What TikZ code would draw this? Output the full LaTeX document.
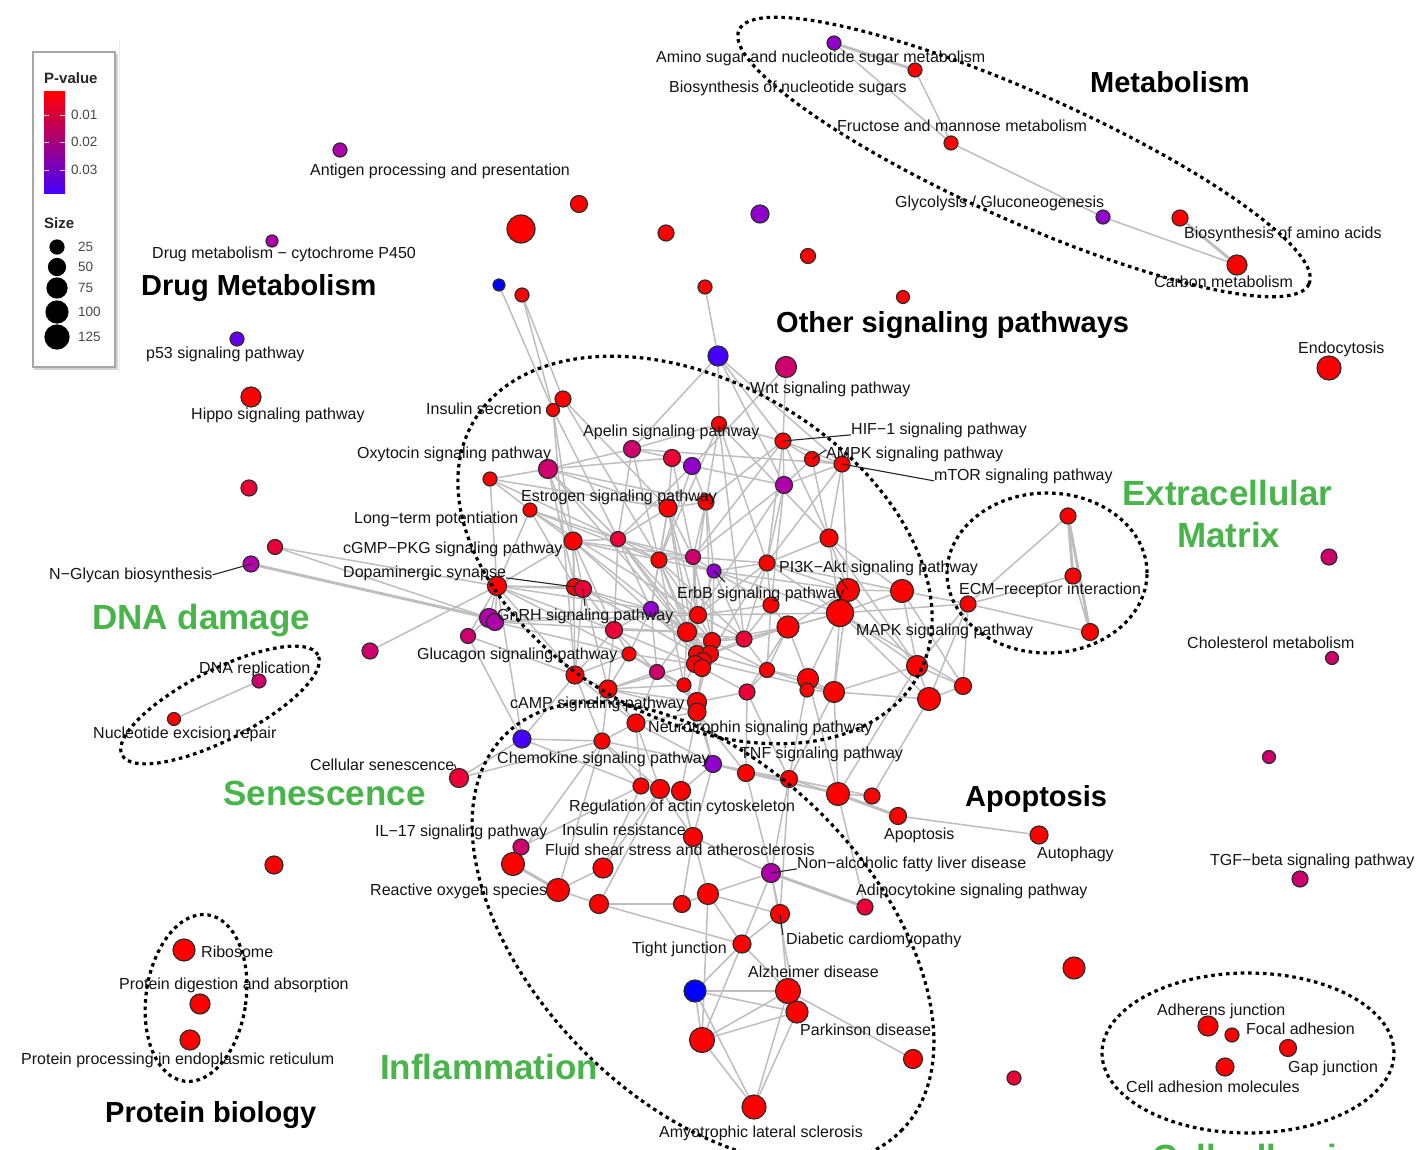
\documentclass[tikz,border=0pt]{standalone}
\usepackage{fontspec}
\setmainfont{Liberation Sans}
\pgfdeclarelayer{bg}
\pgfsetlayers{bg,main}
\definecolor{cR}{RGB}{255,0,0}
\definecolor{cC}{RGB}{235,0,55}
\definecolor{cM}{RGB}{205,0,110}
\definecolor{cMg}{RGB}{175,0,170}
\definecolor{cP}{RGB}{145,0,205}
\definecolor{cPB}{RGB}{100,0,235}
\definecolor{cB}{RGB}{70,0,255}
\definecolor{cBB}{RGB}{0,0,255}
\definecolor{edgec}{RGB}{190,190,190}
\definecolor{ndb}{RGB}{45,45,45}
\definecolor{txt}{RGB}{20,20,20}
\definecolor{grn}{RGB}{72,180,74}
\definecolor{legtxt}{RGB}{70,70,70}
\tikzset{
  nd/.style={circle,draw=ndb,line width=1.2pt,inner sep=0pt,minimum size=#1pt},
  lnk/.style={draw=edgec,line width=1.5pt},
  tlnk/.style={draw=edgec,line width=2.9pt},
  lab/.style={anchor=base west,inner sep=0pt,font=\fontsize{16}{18}\selectfont,text=txt},
  ttl/.style={anchor=base west,inner sep=0pt,font=\fontsize{29}{33}\selectfont\bfseries,text=black},
  gttl/.style={anchor=base west,inner sep=0pt,font=\fontsize{35}{40}\selectfont\bfseries,text=grn},
  grp/.style={draw=black,line width=3.2pt,dash pattern=on 3.6pt off 3.8pt},
  leader/.style={draw=black!85,line width=1.1pt},
  legl/.style={anchor=base west,inner sep=0pt,font=\fontsize{13.5}{15}\selectfont,text=legtxt},
  legh/.style={anchor=base west,inner sep=0pt,font=\fontsize{15}{17}\selectfont\bfseries,text=black!85},
}
\begin{document}
\begin{tikzpicture}[x=1pt,y=-1pt]
\useasboundingbox (0,0) rectangle (1417,1150);
\clip (0,0) rectangle (1417,1150);
\begin{pgfonlayer}{bg}
\fill[white] (0,0) rectangle (1417,1150);
\end{pgfonlayer}

% ---------------- legend
\draw[gray!15,line width=1pt] (119,40) -- (119,372);
\draw[gray!35,line width=2.5pt] (35,55) rectangle (117,369);
\draw[gray!70,line width=1.5pt,fill=white] (33,52) rectangle (115,367);
\node[legh] (legP) at (44,84) {P-value};
\shade[top color=cR,middle color=cM!80!cP,bottom color=cB] (44,92) rectangle (65,194);
\foreach \yy in {115,142,170}{
  \draw[white!60!gray,line width=0.8pt] (44,\yy) -- (49,\yy);
  \draw[white!60!gray,line width=0.8pt] (60,\yy) -- (65,\yy);
}
\node[legl] (leg1) at (71,120) {0.01};
\node[legl] (leg2) at (71,147) {0.02};
\node[legl] (leg3) at (71,175) {0.03};
\node[legh] (legS) at (44,229) {Size};
\node[nd=14,fill=black,draw=black] (s25) at (57,247) {};
\node[nd=17,fill=black,draw=black] (s50) at (57,267) {};
\node[nd=20,fill=black,draw=black] (s75) at (57,288) {};
\node[nd=22,fill=black,draw=black] (s100) at (57,312) {};
\node[nd=24,fill=black,draw=black] (s125) at (57,337) {};
\node[legl] (l25) at (78,252) {25};
\node[legl] (l50) at (78,272) {50};
\node[legl] (l75) at (78,293) {75};
\node[legl] (l100) at (78,317) {100};
\node[legl] (l125) at (78,342) {125};

% ---------------- isolated / peripheral nodes
\node[nd=14,fill=cMg] (antigen) at (340,150) {};
\node[nd=12,fill=cMg] (drugm) at (272,241) {};
\node[nd=14,fill=cPB] (p53) at (237,339) {};
\node[nd=20,fill=cR] (hippo) at (251,397) {};
\node[nd=16,fill=cC] (u1) at (249,488) {};
\node[nd=16,fill=cMg] (nglycan) at (251,564) {};
\node[nd=15,fill=cC] (u2) at (275,547) {};
\node[nd=16,fill=cM] (u3) at (370,651) {};
\node[nd=14,fill=cM] (dnarep) at (259,681) {};
\node[nd=13,fill=cR] (ner) at (174,719) {};
\node[nd=19,fill=cC] (cellsen) at (459,778) {};
\node[nd=18,fill=cR] (u4) at (274,865) {};
\node[nd=22,fill=cR] (ribo) at (184,950) {};
\node[nd=20,fill=cR] (protdig) at (200,1004) {};
\node[nd=20,fill=cR] (protproc) at (190,1040) {};
\node[nd=28,fill=cR] (big1) at (521,229) {};
\node[nd=17,fill=cR] (u5) at (579,204) {};
\node[nd=16,fill=cR] (u6) at (666,233) {};
\node[nd=18,fill=cP] (u7) at (760,214) {};
\node[nd=15,fill=cR] (u8) at (808,256) {};
\node[nd=13,fill=cR] (u9) at (903,297) {};
\node[nd=14,fill=cR] (u10) at (705,287) {};
\node[nd=12,fill=cBB] (b1) at (499,285) {};
\node[nd=14,fill=cR] (u11) at (522,295) {};
\node[nd=20,fill=cB] (b2) at (718,356) {};
\node[nd=21,fill=cM] (wnt) at (786,367) {};
\node[nd=24,fill=cR] (endo) at (1329,368) {};
\node[nd=16,fill=cM] (u12) at (1329,557) {};
\node[nd=13,fill=cM] (chol) at (1332,658) {};
\node[nd=13,fill=cM] (u13) at (1269,757) {};
\node[nd=16,fill=cM] (tgf) at (1300,879) {};
\node[nd=22,fill=cR] (u14) at (1074,968) {};
\node[nd=14,fill=cC] (u15) at (1014,1078) {};

% metabolism
\node[nd=14,fill=cP] (amino) at (834,43) {};
\node[nd=14,fill=cR] (bns) at (915,70) {};
\node[nd=14,fill=cR] (fruc) at (951,143) {};
\node[nd=14,fill=cP] (glyc) at (1103,217) {};
\node[nd=16,fill=cR] (baa) at (1180,218) {};
\node[nd=20,fill=cR] (carbon) at (1237,265) {};
% ECM
\node[nd=16,fill=cR] (e1) at (1068,516) {};
\node[nd=16,fill=cR] (e2) at (1073,576) {};
\node[nd=17,fill=cR] (e3) at (1090,632) {};
\node[nd=16,fill=cR] (ecm) at (968,604) {};
% cell adhesion
\node[nd=20,fill=cR] (adh) at (1208,1026) {};
\node[nd=14,fill=cR] (focal) at (1232,1035) {};
\node[nd=17,fill=cR] (gap) at (1288,1048) {};
\node[nd=18,fill=cR] (cam) at (1225,1067) {};

% central cluster
\node[nd=16,fill=cR] (ins1) at (563,399) {};
\node[nd=13,fill=cR] (ins2) at (553,410) {};
\node[nd=17,fill=cM] (apel) at (632,449) {};
\node[nd=17,fill=cC] (c4) at (672,458) {};
\node[nd=17,fill=cP] (c5) at (692,466) {};
\node[nd=19,fill=cM] (oxy) at (548,469) {};
\node[nd=14,fill=cR] (c7) at (490,479) {};
\node[nd=14,fill=cR] (ltp) at (530,510) {};
\node[nd=18,fill=cR] (c9) at (668,508) {};
\node[nd=16,fill=cR] (c10) at (706,502) {};
\node[nd=18,fill=cR] (cgmp) at (573,541) {};
\node[nd=15,fill=cC] (c12) at (618,539) {};
\node[nd=16,fill=cR] (c13) at (659,560) {};
\node[nd=15,fill=cM] (c14) at (693,557) {};
\node[nd=14,fill=cP] (erbb) at (714,571) {};
\node[nd=19,fill=cR] (dopa) at (497,586) {};
\node[nd=17,fill=cR] (c17) at (575,587) {};
\node[nd=17,fill=cC] (gnrh) at (583,589) {};
\node[nd=15,fill=cP] (c19) at (651,609) {};
\node[nd=19,fill=cMg] (c20) at (489,618) {};
\node[nd=17,fill=cMg] (c21) at (495,622) {};
\node[nd=15,fill=cM] (c22) at (468,636) {};
\node[nd=17,fill=cR] (c23) at (698,615) {};
\node[nd=17,fill=cC] (c24) at (614,630) {};
\node[nd=19,fill=cR] (c25) at (687,632) {};
\node[nd=17,fill=cR] (c26) at (712,641) {};
\node[nd=16,fill=cC] (c27) at (744,639) {};
\node[nd=14,fill=cR] (gluc) at (629,654) {};
\node[nd=17,fill=cR] (k1) at (697,654) {};
\node[nd=17,fill=cR] (k2) at (710,654) {};
\node[nd=17,fill=cR] (k3) at (703,661) {};
\node[nd=17,fill=cR] (k4) at (695,664) {};
\node[nd=17,fill=cR] (k5) at (702,668) {};
\node[nd=15,fill=cM] (c30) at (657,672) {};
\node[nd=18,fill=cR] (c31) at (575,675) {};
\node[nd=18,fill=cR] (camp) at (608,689) {};
\node[nd=14,fill=cR] (c33) at (684,685) {};
\node[nd=19,fill=cR] (c34) at (697,702) {};
\node[nd=18,fill=cR] (c35) at (697,712) {};
\node[nd=18,fill=cR] (neuro) at (636,723) {};
\node[nd=18,fill=cB] (chemo) at (522,739) {};
\node[nd=16,fill=cR] (c38) at (602,741) {};
\node[nd=17,fill=cP] (c39) at (713,764) {};
\node[nd=17,fill=cR] (tnf) at (746,773) {};
\node[nd=17,fill=cR] (c41) at (789,779) {};
\node[nd=23,fill=cR] (c42) at (838,794) {};
\node[nd=16,fill=cR] (c43) at (872,796) {};
\node[nd=16,fill=cR] (act1) at (641,786) {};
\node[nd=19,fill=cR] (act2) at (660,789) {};
\node[nd=19,fill=cR] (act3) at (681,791) {};
\node[nd=15,fill=cR] (c45) at (719,424) {};
\node[nd=16,fill=cR] (hif) at (783,441) {};
\node[nd=15,fill=cR] (ampk) at (812,459) {};
\node[nd=16,fill=cR] (mtor) at (842,464) {};
\node[nd=17,fill=cMg] (c49) at (784,485) {};
\node[nd=18,fill=cR] (c50) at (829,538) {};
\node[nd=16,fill=cR] (pi3k) at (767,563) {};
\node[nd=23,fill=cR] (c52) at (848,590) {};
\node[nd=23,fill=cR] (c53) at (902,591) {};
\node[nd=27,fill=cR] (mapk) at (840,613) {};
\node[nd=16,fill=cR] (c55) at (771,605) {};
\node[nd=22,fill=cR] (c56) at (788,627) {};
\node[nd=15,fill=cR] (c57) at (767,670) {};
\node[nd=21,fill=cR] (c58) at (808,679) {};
\node[nd=14,fill=cR] (c59) at (807,690) {};
\node[nd=21,fill=cR] (c60) at (834,692) {};
\node[nd=16,fill=cC] (c61) at (747,692) {};
\node[nd=21,fill=cR] (c62) at (917,666) {};
\node[nd=23,fill=cR] (c63) at (929,699) {};
\node[nd=17,fill=cR] (c64) at (963,686) {};
% apoptosis
\node[nd=17,fill=cR] (apop) at (898,816) {};
\node[nd=18,fill=cR] (autoph) at (1039,835) {};
\node[nd=16,fill=cC] (adipo) at (865,907) {};
% inflammation
\node[nd=16,fill=cM] (il17) at (521,847) {};
\node[nd=23,fill=cR] (f1) at (513,864) {};
\node[nd=20,fill=cR] (f2) at (603,868) {};
\node[nd=19,fill=cR] (insres) at (693,837) {};
\node[nd=23,fill=cR] (ros) at (558,890) {};
\node[nd=19,fill=cR] (f4) at (599,904) {};
\node[nd=17,fill=cR] (f5) at (682,904) {};
\node[nd=21,fill=cR] (f6) at (708,894) {};
\node[nd=19,fill=cMg] (nafld) at (771,873) {};
\node[nd=19,fill=cR] (dcm) at (780,914) {};
\node[nd=18,fill=cR] (tight) at (742,944) {};
\node[nd=22,fill=cBB] (fb) at (695,991) {};
\node[nd=25,fill=cR] (alz) at (788,991) {};
\node[nd=22,fill=cR] (park) at (797,1012) {};
\node[nd=25,fill=cR] (f7) at (702,1040) {};
\node[nd=19,fill=cR] (f8) at (913,1059) {};
\node[nd=24,fill=cR] (als) at (754,1107) {};

% ---------------- edges
\begin{pgfonlayer}{bg}
\foreach \a/\b in {amino/bns,baa/carbon,nglycan/c20,e1/e2,e1/e3,f1/ros,fb/alz,c42/apop,nafld/adipo}
  \draw[tlnk] (\a) -- (\b);
\foreach \a/\b in {amino/fruc,bns/fruc,fruc/glyc,glyc/carbon,ner/dnarep,
  e2/e3,ecm/e1,ecm/e2,ecm/e3,ecm/c53,ecm/c62,ecm/c63,ecm/c64,ecm/mapk,
  u2/dopa,u3/dopa,cellsen/chemo,cellsen/c38,b1/ins2,u11/ins2,u11/ins1,u10/b2,
  ins1/ins2,ins2/cgmp,ins1/c9,ins2/c12,ins1/c13,ins2/c31,c7/dopa,
  b2/c45,b2/apel,b2/hif,b2/mtor,b2/c49,wnt/hif,wnt/c5,
  apel/c4,apel/oxy,apel/c12,apel/c13,apel/c45,apel/mtor,
  c4/c5,c4/c9,c4/oxy,c4/c14,c5/c10,c5/c12,c5/c49,c5/c13,
  oxy/c7,oxy/cgmp,oxy/c12,oxy/c9,oxy/c10,oxy/c25,oxy/c17,
  c7/ltp,c7/c12,c7/c9,ltp/cgmp,ltp/c17,ltp/dopa,ltp/c12,ltp/c13,ltp/c23,
  c9/c10,c9/c12,c9/c13,c9/c14,c9/c25,c9/c23,c9/k1,c9/c19,
  c10/c14,c10/erbb,c10/c26,c10/hif,c10/c45,c10/c25,
  c45/hif,c45/c13,c45/c27,c45/pi3k,c45/c50,
  hif/ampk,hif/c49,hif/c50,hif/pi3k,hif/mtor,hif/c14,
  ampk/mtor,ampk/c49,ampk/c50,mtor/c50,mtor/c52,mtor/c49,mtor/pi3k,
  c49/pi3k,c49/c23,c49/c14,c49/c55,
  c50/c52,c50/c53,c50/mapk,c50/pi3k,c50/c62,
  cgmp/c12,cgmp/dopa,cgmp/c17,cgmp/gnrh,cgmp/c24,cgmp/c13,cgmp/c25,cgmp/c14,cgmp/k1,cgmp/c31,
  c12/c13,c12/c14,c12/c19,c12/c24,c12/k2,c12/c25,c12/c26,c12/erbb,
  c13/c14,c13/erbb,c13/c19,c13/c23,c13/c25,c13/k3,c13/c27,c13/c33,
  c14/erbb,c14/c23,c14/c26,c14/pi3k,c14/k1,
  erbb/pi3k,erbb/c23,erbb/c26,erbb/c27,erbb/c55,erbb/mapk,erbb/c52,
  pi3k/c52,pi3k/mapk,pi3k/c55,pi3k/c23,pi3k/c27,pi3k/k2,pi3k/c53,
  dopa/c17,dopa/gnrh,dopa/c20,dopa/c21,dopa/c22,dopa/c31,dopa/chemo,dopa/c24,dopa/c19,dopa/gluc,
  u2/c20,c17/gnrh,gnrh/c19,gnrh/c24,gnrh/c25,gnrh/k1,gnrh/c31,gnrh/camp,
  c19/c23,c19/c24,c19/c25,c19/k1,c19/c30,c19/gluc,c19/c26,
  c20/c21,c20/c22,c21/c25,c21/c23,c21/c19,c21/gluc,c22/chemo,c22/c31,
  c23/c25,c23/c26,c23/k1,c23/c27,c23/c55,c23/mapk,
  c24/c25,c24/gluc,c24/c31,c24/camp,c24/k4,c24/c30,
  c25/c26,c25/k1,c25/k2,c25/k3,c25/k4,c25/c30,c25/c33,c25/c27,
  c26/c27,c26/k2,c26/c56,c26/c57,c26/c34,
  c27/c55,c27/c56,c27/c57,c27/mapk,c27/k2,
  gluc/c31,gluc/camp,gluc/c30,gluc/k4,gluc/c33,
  k1/k2,k2/k3,k3/k4,k1/k4,k4/k5,k2/c57,k3/c34,k4/c33,k5/c35,k4/camp,k3/c60,k2/c56,k5/c61,
  c30/c33,c30/camp,c30/c34,c30/neuro,
  c31/camp,c31/chemo,c31/neuro,c31/c38,
  camp/neuro,camp/c33,camp/c34,camp/c35,camp/c38,
  c33/c34,c33/c35,c34/c35,c34/c61,c34/c39,c35/neuro,c35/c39,c35/act3,c35/tnf,
  neuro/c38,neuro/act1,neuro/act2,neuro/c39,
  chemo/c38,chemo/act1,c38/act1,c38/act2,c38/c39,
  c39/tnf,c39/act3,c39/c41,c39/c42,
  tnf/c41,tnf/c42,tnf/c61,c41/c42,c41/c43,c41/c60,c41/c58,
  c42/c43,c42/c60,c42/c58,c42/c62,c43/c63,apop/autoph,
  c52/c53,c52/mapk,c52/c56,c52/c60,c52/c62,
  c53/mapk,c53/c62,c53/c64,
  mapk/c56,mapk/c58,mapk/c60,mapk/c62,mapk/c63,mapk/c64,
  c55/c56,c55/c57,c56/c57,c56/c58,c56/c61,
  c57/c58,c57/c61,c57/c60,c58/c59,c58/c60,c59/c60,c60/c62,c60/c63,
  c61/c41,c62/c63,c62/c64,c63/c64,
  il17/f1,il17/act1,f1/c38,f2/ros,f2/act1,f2/act2,ros/f4,ros/c38,
  f4/f5,f4/tight,f4/act2,f5/f6,f5/insres,f6/nafld,f6/dcm,f6/tight,f6/f7,f6/act3,
  insres/nafld,insres/act3,insres/act2,insres/c39,
  nafld/dcm,nafld/tight,nafld/park,nafld/tnf,nafld/c41,
  dcm/tight,dcm/alz,dcm/c41,tight/fb,tight/f7,tight/alz,
  fb/park,fb/als,fb/f7,f7/alz,f7/park,f7/als,alz/als,park/als,alz/f8,alz/park,adipo/c42}
  \draw[lnk] (\a) -- (\b);
\end{pgfonlayer}

% ---------------- group outlines
\draw[grp,rotate around={-24:(1024,157)}] (1024,157) ellipse [x radius=312pt,y radius=64pt];
\draw[grp,rotate around={-30:(695,550)}] (695,550) ellipse [x radius=256pt,y radius=168pt];
\draw[grp,rotate around={-45:(703,933)}] (703,933) ellipse [x radius=280pt,y radius=168pt];
\draw[grp] (1047,573) ellipse [x radius=100pt,y radius=80pt];
\draw[grp,rotate around={27:(220,705)}] (220,705) ellipse [x radius=110pt,y radius=35pt];
\draw[grp,rotate around={-8:(196,998)}] (196,998) ellipse [x radius=50pt,y radius=84pt];
\draw[grp] (1248,1053) ellipse [x radius=146pt,y radius=80pt];

% ---------------- labels
\node[lab] (Lantigen) at (310,176) {Antigen processing and presentation};
\node[lab] (Ldrugm) at (152,259) {Drug metabolism − cytochrome P450};
\node[ttl] (Tdrug) at (141,296) {Drug Metabolism};
\node[lab] (Lp53) at (146,359) {p53 signaling pathway};
\node[lab] (Lhippo) at (191,420) {Hippo signaling pathway};
\node[lab] (Lins) at (426,414) {Insulin secretion};
\node[lab] (Lapel) at (583,436) {Apelin signaling pathway};
\node[lab] (Loxy) at (357,458) {Oxytocin signaling pathway};
\node[lab] (Lestr) at (521,501) {Estrogen signaling pathway};
\node[lab] (Lltp) at (354,523) {Long−term potentiation};
\node[lab] (Lcgmp) at (343,553) {cGMP−PKG signaling pathway};
\node[lab] (Ldopa) at (343,577) {Dopaminergic synapse};
\node[lab] (Lnglycan) at (49,579) {N−Glycan biosynthesis};
\node[gttl] (Gdna) at (92,629) {DNA damage};
\node[lab] (Lgnrh) at (497,620) {GnRH signaling pathway};
\node[lab] (Lgluc) at (417,659) {Glucagon signaling pathway};
\node[lab] (Ldnarep) at (199,673) {DNA replication};
\node[lab] (Lner) at (93,738) {Nucleotide excision repair};
\node[lab] (Lcamp) at (510,708) {cAMP signaling pathway};
\node[lab] (Lneuro) at (648,732) {Neurotrophin signaling pathway};
\node[lab] (Lchemo) at (497,763) {Chemokine signaling pathway};
\node[lab] (Lcellsen) at (310,770) {Cellular senescence};
\node[gttl] (Gsen) at (223,805) {Senescence};
\node[lab] (Ltnf) at (740,758) {TNF signaling pathway};
\node[lab] (Lact) at (569,811) {Regulation of actin cytoskeleton};
\node[lab] (Lil17) at (375,836) {IL−17 signaling pathway};
\node[lab] (Linsres) at (562,835) {Insulin resistance};
\node[lab] (Lfluid) at (545,855) {Fluid shear stress and atherosclerosis};
\node[lab] (Lnafld) at (797,868) {Non−alcoholic fatty liver disease};
\node[lab] (Lros) at (370,895) {Reactive oxygen species};
\node[lab] (Ladipo) at (856,895) {Adipocytokine signaling pathway};
\node[lab] (Lapop) at (884,839) {Apoptosis};
\node[ttl] (Tapop) at (965,806) {Apoptosis};
\node[lab] (Lautoph) at (1037,858) {Autophagy};
\node[lab] (Ltight) at (632,953) {Tight junction};
\node[lab] (Ldcm) at (786,944) {Diabetic cardiomyopathy};
\node[lab] (Lalz) at (748,977) {Alzheimer disease};
\node[lab] (Lpark) at (800,1035) {Parkinson disease};
\node[gttl] (Ginfl) at (380,1079) {Inflammation};
\node[lab] (Lals) at (659,1137) {Amyotrophic lateral sclerosis};
\node[lab] (Lribo) at (201,957) {Ribosome};
\node[lab] (Lprotdig) at (119,989) {Protein digestion and absorption};
\node[lab] (Lprotproc) at (21,1064) {Protein processing in endoplasmic reticulum};
\node[ttl] (Tprot) at (105,1122) {Protein biology};
\node[lab] (Lwnt) at (750,393) {Wnt signaling pathway};
\node[lab] (Lhif) at (851,434) {HIF−1 signaling pathway};
\node[lab] (Lampk) at (826,458) {AMPK signaling pathway};
\node[lab] (Lmtor) at (934,480) {mTOR signaling pathway};
\node[ttl] (Tother) at (776,333) {Other signaling pathways};
\node[lab] (Lpi3k) at (779,572) {PI3K−Akt signaling pathway};
\node[lab] (Lerbb) at (677,598) {ErbB signaling pathway};
\node[lab] (Lmapk) at (856,635) {MAPK signaling pathway};
\node[lab] (Lecm) at (959,594) {ECM−receptor interaction};
\node[gttl] (Gecm1) at (1122,505) {Extracellular};
\node[gttl] (Gecm2) at (1177,547) {Matrix};
\node[lab] (Lchol) at (1187,648) {Cholesterol metabolism};
\node[lab] (Lendo) at (1298,354) {Endocytosis};
\node[lab] (Ltgf) at (1210,865) {TGF−beta signaling pathway};
\node[ttl] (Tmetab) at (1090,93) {Metabolism};
\node[lab] (Lamino) at (656,63) {Amino sugar and nucleotide sugar metabolism};
\node[lab] (Lbns) at (669,93) {Biosynthesis of nucleotide sugars};
\node[lab] (Lfruc) at (837,132) {Fructose and mannose metabolism};
\node[lab] (Lglyc) at (895,208) {Glycolysis / Gluconeogenesis};
\node[lab] (Lbaa) at (1184,239) {Biosynthesis of amino acids};
\node[lab] (Lcarbon) at (1154,288) {Carbon metabolism};
\node[lab] (Ladh) at (1157,1015) {Adherens junction};
\node[lab] (Lfocal) at (1246,1034) {Focal adhesion};
\node[lab] (Lgap) at (1288,1072) {Gap junction};
\node[lab] (Lcam) at (1126,1092) {Cell adhesion molecules};
\node[gttl] (Gcell) at (1152,1169) {Cell adhesion};

% ---------------- leader lines
\coordinate (qgnrh) at (585,606);
\coordinate (qerbb) at (725,582);
\coordinate (qpi3k) at (840,578);
\coordinate (qampk) at (826,450);
\coordinate (qdcm) at (783,935);
\draw[leader] (Lnglycan.east) -- (nglycan.center);
\draw[leader] ([yshift=-5pt]Ldopa.east) -- (c17.center);
\draw[leader] (gnrh.center) -- (qgnrh);
\draw[leader] (erbb.center) -- (qerbb);
\draw[leader] (c52.center) -- (qpi3k);
\draw[leader] (hif.center) -- ([yshift=-5pt]Lhif.west);
\draw[leader] (ampk.center) -- (qampk);
\draw[leader] (mtor.center) -- ([yshift=-5pt]Lmtor.west);
\draw[leader] (nafld.center) -- ([yshift=-5pt]Lnafld.west);
\draw[leader] (dcm.center) -- (qdcm);
\draw[leader] (Lcellsen.east) -- (cellsen);
\end{tikzpicture}
\end{document}
